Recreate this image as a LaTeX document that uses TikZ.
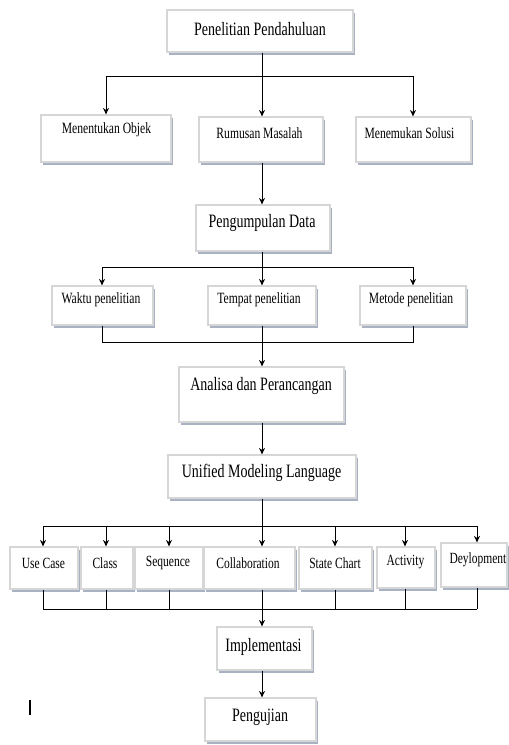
\documentclass[tikz,border=0pt]{standalone}
\usepackage{fontspec}
\setmainfont{Liberation Serif}
\usetikzlibrary{arrows.meta,shadows,fit}
\definecolor{shadowc}{HTML}{A8B2C2}
\definecolor{borderc}{HTML}{D6D6D6}
\newcommand\tallt[1]{\scalebox{1}[1.35]{#1}}
\begin{document}
\begin{tikzpicture}[x=1pt,y=-1pt,
  box/.style={draw=borderc,line width=1.2pt,fill=white,inner sep=0pt,
    drop shadow={shadow xshift=2pt,shadow yshift=-2.5pt,fill=shadowc,opacity=1}},
  big/.style={font=\fontsize{14}{16}\selectfont,inner sep=0pt},
  mid/.style={font=\fontsize{11.6}{13}\selectfont,inner sep=0pt},
  sml/.style={font=\fontsize{11.5}{13}\selectfont,inner sep=0pt},
  ln/.style={line width=0.9pt},
  arr/.style={line width=0.9pt,-{Stealth[length=6.5pt,width=6pt]}}]
\useasboundingbox (0,0) rectangle (509,745);
% boxes
\node[box,fit={(167,10) (353,52)}] (pp) {};
\node[big] (ppt) at (260,29) {\tallt{Penelitian Pendahuluan}};
\node[box,fit={(41,115) (171,162)}] (mo) {};
\node[mid] (mot) at (106.5,130) {\tallt{Menentukan Objek}};
\node[box,fit={(199,117) (323,162)}] (rm) {};
\node[mid] (rmt) at (259.5,133) {\tallt{Rumusan Masalah}};
\node[box,fit={(356,117) (471,162)}] (ms) {};
\node[mid] (mst) at (409.5,133) {\tallt{Menemukan Solusi}};
\node[box,fit={(196,205) (330,251)}] (pd) {};
\node[big] (pdt) at (262,223) {\tallt{Pengumpulan Data}};
\node[box,fit={(52,286) (153,325)}] (wp) {};
\node[mid] (wpt) at (101,300) {\tallt{Waktu penelitian}};
\node[box,fit={(208,286) (316,325)}] (tp) {};
\node[mid] (tpt) at (259,300) {\tallt{Tempat penelitian}};
\node[box,fit={(360,286) (466,325)}] (mp) {};
\node[mid] (mpt) at (411,300) {\tallt{Metode penelitian}};
\node[box,fit={(179,367) (344,422)}] (ap) {};
\node[big] (apt) at (261,386) {\tallt{Analisa dan Perancangan}};
\node[box,fit={(168,455) (356,498)}] (uml) {};
\node[big] (umlt) at (261.5,473) {\tallt{Unified Modeling Language}};
\node[box,fit={(10,547) (78,589)}] (uc) {};
\node[sml] (uct) at (43.5,563) {\tallt{Use Case}};
\node[box,fit={(81,547) (133,589)}] (cl) {};
\node[sml] (clt) at (105,563) {\tallt{Class}};
\node[box,fit={(135,547) (203,589)}] (sq) {};
\node[sml] (sqt) at (168,563) {\tallt{Sequence}};
\node[box,fit={(204,547) (295,589)}] (co) {};
\node[sml] (cot) at (248,563) {\tallt{Collaboration}};
\node[box,fit={(299,547) (372,589)}] (sc) {};
\node[sml] (sct) at (335,563) {\tallt{State Chart}};
\node[box,fit={(377,547) (435,588)}] (ac) {};
\node[sml] (act) at (405.5,562) {\tallt{Activity}};
\node[box,fit={(441,543) (507,587)}] (de) {};
\node[sml] (det) at (478,560) {\tallt{Deylopment}};
\node[box,fit={(217,627) (312,670)}] (im) {};
\node[big] (imt) at (263.5,647) {\tallt{Implementasi}};
\node[box,fit={(205,698) (316,741)}] (pu) {};
\node[big] (put) at (260,717) {\tallt{Pengujian}};
% cursor mark
\coordinate (k1) at (30,700);
\coordinate (k2) at (30,715);
\draw[line width=1.2pt] (k1) -- (k2);
% level 1 split
\coordinate (s1) at (262,76);
\coordinate (s1a) at (106,76);
\coordinate (s1c) at (413,76);
\draw[ln] (pp.south -| s1) -- (s1);
\draw[ln] (s1a) -- (s1c);
\draw[arr] (s1a) -- (s1a |- mo.north);
\draw[arr] (s1) -- (s1 |- rm.north);
\draw[arr] (s1c) -- (s1c |- ms.north);
\draw[arr] (rm.south -| s1) -- (s1 |- pd.north);
% level 2 split
\coordinate (s2) at (262,267);
\coordinate (s2a) at (102,267);
\coordinate (s2c) at (413,267);
\draw[ln] (pd.south -| s2) -- (s2);
\draw[ln] (s2a) -- (s2c);
\draw[arr] (s2a) -- (s2a |- wp.north);
\draw[arr] (s2) -- (s2 |- tp.north);
\draw[arr] (s2c) -- (s2c |- mp.north);
% level 2 merge
\coordinate (m2) at (262,342);
\coordinate (m2a) at (102,342);
\coordinate (m2c) at (413,342);
\draw[ln] (wp.south -| m2a) -- (m2a) -- (m2c) -- (mp.south -| m2c);
\draw[ln] (tp.south -| m2) -- (m2);
\draw[arr] (m2) -- (m2 |- ap.north);
\draw[arr] (ap.south -| m2) -- (m2 |- uml.north);
% level 3 split
\coordinate (s3) at (262,526);
\coordinate (x1) at (43,526);
\coordinate (x2) at (106,526);
\coordinate (x3) at (169,526);
\coordinate (x5) at (335,526);
\coordinate (x6) at (405,526);
\coordinate (x7) at (477,526);
\draw[ln] (uml.south -| s3) -- (s3);
\draw[ln] (x1) -- (x7);
\draw[arr] (x1) -- (x1 |- uc.north);
\draw[arr] (x2) -- (x2 |- cl.north);
\draw[arr] (x3) -- (x3 |- sq.north);
\draw[arr] (s3) -- (s3 |- co.north);
\draw[arr] (x5) -- (x5 |- sc.north);
\draw[arr] (x6) -- (x6 |- ac.north);
\draw[arr] (x7) -- (x7 |- de.north);
% level 3 merge
\coordinate (m3) at (262,609);
\coordinate (y1) at (43,609);
\coordinate (y2) at (106,609);
\coordinate (y3) at (169,609);
\coordinate (y5) at (335,609);
\coordinate (y6) at (405,609);
\coordinate (y7) at (477,609);
\draw[ln] (y1) -- (y7);
\draw[ln] (uc.south -| y1) -- (y1);
\draw[ln] (cl.south -| y2) -- (y2);
\draw[ln] (sq.south -| y3) -- (y3);
\draw[ln] (co.south -| m3) -- (m3);
\draw[ln] (sc.south -| y5) -- (y5);
\draw[ln] (ac.south -| y6) -- (y6);
\draw[ln] (de.south -| y7) -- (y7);
\draw[arr] (m3) -- (m3 |- im.north);
\draw[arr] (im.south -| m3) -- (m3 |- pu.north);
\end{tikzpicture}
\end{document}
